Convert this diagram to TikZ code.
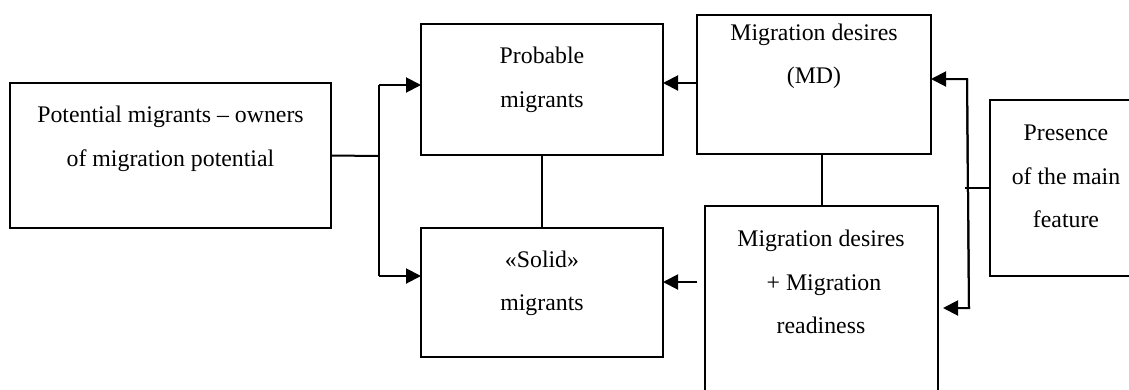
\documentclass[tikz,border=0pt]{standalone}
\usepackage{fontspec}
\setmainfont{Liberation Serif}
\usetikzlibrary{arrows.meta}
\begin{document}
\begin{tikzpicture}[x=1pt,y=-1pt,
  box/.style={draw,line width=2pt,rectangle,anchor=north west,inner sep=0pt,outer sep=0pt},
  txt/.style={align=center,font=\fontsize{23.8}{43.5}\selectfont,inner sep=0pt},
  conn/.style={line width=2pt},
  arr/.style={line width=2pt,-{Triangle[length=15pt,width=15pt]}}]
\useasboundingbox (0,0) rectangle (1129,389);
\clip (0,0) rectangle (1129,389);
% boxes
\node[box,minimum width=321pt,minimum height=145pt] (pm) at (10,83) {};
\node[box,minimum width=242pt,minimum height=131pt] (pb) at (421,24) {};
\node[box,minimum width=242pt,minimum height=129pt] (sm) at (421,228) {};
\node[box,minimum width=234pt,minimum height=139pt] (md) at (697,15) {};
\node[box,minimum width=233pt,minimum height=200pt] (rd) at (705,206) {};
\node[box,minimum width=152pt,minimum height=176pt] (pr) at (990,100) {};
% texts
\node[txt] (pmt) at (170.5,139) {Potential migrants -- owners\\of migration potential};
\node[txt] (pbt) at (542,80) {Probable\\migrants};
\node[txt] (smt) at (542,283.5) {«Solid»\\migrants};
\node[txt] (mdt) at (814,56.5) {Migration desires\\(MD)};
\node[txt] (rdt) at (821,282) {Migration desires\\\hspace*{6pt}+ Migration\\readiness};
\node[txt] (prt) at (1066,176.5) {Presence\\of the main\\feature};
% connectors left
\coordinate (jmid) at (379,156);
\coordinate (jtop) at (379,85);
\coordinate (jbot) at (379,276);
\draw[conn] (pm.east) -- (jmid);
\draw[conn] (jtop) -- (jbot);
\draw[arr] (jtop) -- (jtop -| pb.west);
\draw[arr] (jbot) -- (jbot -| sm.west);
\draw[conn] (pb.south) -- (sm.north);
% middle
\draw[arr] (md.west |- 0,83) -- (pb.east |- 0,83);
\coordinate (rdl) at (697,282);
\draw[arr] (rdl) -- (rdl -| sm.east);
\coordinate (mdb) at (822,154);
\draw[conn] (mdb) -- (mdb |- rd.north);
% right
\coordinate (rtop) at (967,79);
\coordinate (rbot) at (969,308);
\coordinate (rmid) at (965,188);
\draw[conn] (rmid) -- (rmid -| pr.west);
\draw[arr] (rbot) -- (rtop) -- (rtop -| md.east);
\draw[arr] (rtop) -- (rbot) -- ([xshift=5pt]rbot -| rd.east);
\end{tikzpicture}
\end{document}
